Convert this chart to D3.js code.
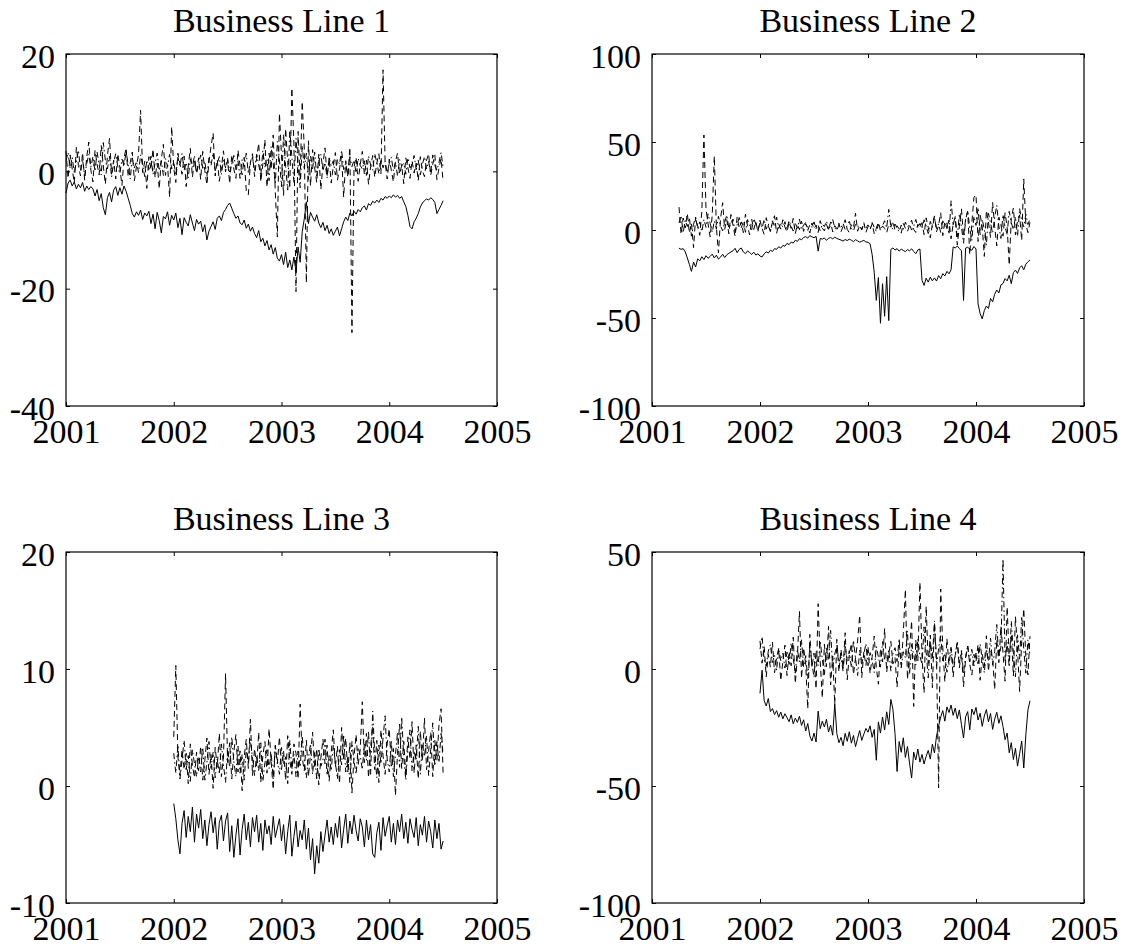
<!DOCTYPE html>
<html><head><meta charset="utf-8">
<script src="https://cdn.jsdelivr.net/npm/d3@7"></script>
<style>body{margin:0;background:#fff}svg{display:block}</style>
</head><body><svg id="c" width="1124" height="949"></svg>
<script>
// ---------- data ----------
const titles = ["Business Line 1", "Business Line 2", "Business Line 3", "Business Line 4"];
const xTicks = [2001, 2002, 2003, 2004, 2005];
const stepYears = 1 / 52; // weekly observations
const startYears = [2001.0, 2001.25, 2002.0, 2002.0];

const yTicks1 = [-40, -20, 0, 20];
const yTicks2 = [-100, -50, 0, 50, 100];
const yTicks3 = [-10, 0, 10, 20];
const yTicks4 = [-100, -50, 0, 50];

// Business Line 1
const bl1Solid = [
 -3.7,-2,-1.5,-2.5,-1.8,-3,-2.2,-2.8,-1.9,-3.4,-2.5,-3.1,-2.6,
 -3.0,-4.2,-3.1,-5.0,-3.8,-6.2,-7.4,-4.5,-3.6,-5.2,-3.2,-2.6,-4.1,
 -2.8,-3.9,-2.5,-3.4,-4.6,-5.8,-7.2,-7.8,-6.9,-7.5,-6.6,-8.2,-7.1,
 -7.6,-6.8,-8.9,-7.3,-9.8,-7.0,-8.4,-10.5,-7.7,-8.1,-6.9,-9.2,-7.5,
 -8.3,-7.1,-9.6,-8.0,-10.8,-7.9,-8.7,-9.3,-7.4,-8.8,-10.1,-8.2,-9.0,
 -8.5,-10.3,-9.1,-11.7,-10.2,-9.4,-8.6,-9.9,-8.0,-7.6,-8.4,-7.0,-6.5,
 -5.8,-5.4,-6.3,-7.2,-8.0,-7.6,-8.8,-9.1,-8.3,-9.7,-9.0,-10.2,-9.5,
 -10.6,-11.3,-10.1,-12.0,-11.4,-12.7,-11.8,-13.4,-12.5,-14.1,-13.0,-14.8,-15.3,
 -14.2,-15.9,-13.8,-16.4,-15.1,-16.8,-14.6,-17.2,-12.9,-15.5,-10.3,-8.1,-5.2,
 -8.9,-7.0,-7.8,-8.5,-7.4,-8.8,-9.6,-8.7,-10.1,-9.2,-10.6,-9.8,-10.9,
 -10.2,-9.5,-11.0,-9.8,-8.6,-7.8,-8.4,-7.1,-7.6,-6.8,-7.3,-6.5,-6.9,
 -6.2,-5.9,-6.6,-5.5,-5.8,-5.1,-5.4,-4.9,-5.3,-4.6,-4.9,-4.3,-4.6,
 -4.2,-4.5,-4.0,-4.4,-4.1,-4.6,-4.3,-5.2,-6.0,-7.5,-9.4,-9.8,-8.6,
 -8.0,-7.2,-6.1,-5.4,-5.0,-4.7,-4.9,-4.5,-4.8,-5.3,-7.2,-6.5,-5.8,-5.0];
const bl1Dashed = [
 3.5,-1.2,2.8,0.4,-2.0,4.1,1.0,-0.8,3.2,-1.5,2.4,5.0,0.2,
 -1.8,3.6,1.2,-0.6,4.4,0.9,-2.2,2.7,5.6,-0.4,1.9,-1.3,3.0,
 0.6,-2.4,2.2,4.0,-0.9,1.5,3.3,-1.6,0.8,2.9,10.4,-0.2,1.7,
 -2.9,2.5,0.3,3.8,-1.1,1.4,-3.0,2.1,4.6,-0.7,1.1,-4.4,7.6,
 0.5,-1.9,3.1,1.3,-0.5,2.6,-2.6,0.9,3.9,-1.0,1.8,-0.3,2.3,
 -1.4,3.4,0.1,-2.3,1.6,4.3,6.5,-0.8,2.0,-1.7,0.7,3.5,-0.1,
 1.9,-2.1,2.8,0.4,-1.2,3.6,1.0,-0.6,2.4,-3.3,-4.0,1.5,3.0,
 -0.9,2.2,4.8,-1.8,1.2,5.4,-2.7,3.1,0.3,6.2,-3.5,-11.2,9.9,
 2.6,-4.1,7.3,1.5,-2.9,14.2,4.6,-20.5,6.8,-1.4,11.9,3.8,-19.0,
 5.2,-2.5,3.7,0.6,-1.9,2.9,-3.1,1.3,4.0,-0.8,2.2,-2.0,0.9,
 3.2,-1.5,0.4,2.6,-4.4,1.8,-0.9,4.1,-27.5,0.7,2.4,-1.7,1.2,
 3.4,-0.6,1.9,-2.2,0.8,2.7,-1.0,1.4,3.0,-0.4,17.3,1.6,-1.3,
 2.1,0.2,-1.8,1.7,3.1,-0.5,1.0,-2.1,2.3,0.6,-1.2,1.8,-0.3,
 1.4,-1.6,2.5,0.1,-0.9,1.9,3.0,-0.7,1.2,2.8,-1.4,0.5,2.2,-1.8];
const bl1DashDot = [
 1.8,3.2,0.5,2.4,-0.3,1.6,3.6,0.2,2.0,-0.8,1.3,2.9,0.7,
 2.5,0.0,3.3,1.1,-0.6,4.9,1.9,0.4,2.6,-1.0,1.5,3.0,0.8,
 -0.4,2.1,0.9,3.4,1.2,-1.3,2.3,0.6,1.7,-0.2,2.8,1.0,-0.9,
 1.9,0.3,2.6,-0.5,1.4,3.1,0.1,1.8,-0.7,2.2,0.8,2.9,0.4,
 1.6,-0.6,2.4,0.9,3.0,0.2,1.5,-1.1,2.1,0.7,2.7,-0.3,1.2,
 2.8,0.5,1.7,-0.9,2.3,1.0,3.2,0.1,1.4,2.5,-0.5,1.9,0.6,
 2.2,-0.1,1.3,2.7,0.3,1.8,-1.2,2.0,0.8,3.1,-0.4,1.6,2.4,
 0.2,2.9,1.1,-0.8,3.5,0.7,2.1,-1.6,4.2,1.3,-2.2,5.1,2.0,
 -2.6,6.3,0.8,-3.2,7.0,2.4,-1.9,5.6,1.1,-2.8,4.4,0.5,3.1,
 -1.4,2.6,0.4,3.3,-0.8,1.7,2.9,0.1,1.5,-1.1,2.3,0.9,1.8,
 -0.6,2.0,1.2,3.6,0.3,1.4,-0.9,2.5,0.8,1.9,-0.3,2.2,1.0,
 0.4,1.8,-0.7,2.6,1.1,0.2,3.0,1.5,-0.4,2.1,0.6,1.7,-0.2,
 1.3,2.4,0.1,1.6,-0.8,2.0,0.9,1.4,-0.5,2.3,0.6,1.1,2.7,
 0.3,1.9,-0.6,1.2,2.5,0.4,1.7,-0.3,2.8,1.0,0.2,1.5,3.2,0.7];

// Business Line 2
const bl2Solid = [
 -10.3,-11.0,-10.6,-12.4,-15.8,-19.6,-23.5,-18.2,-21.0,-16.4,-17.5,-15.2,-16.8,
 -14.6,-16.1,-15.0,-13.7,-15.9,-14.3,-16.5,-15.4,-13.8,-15.6,-14.1,-13.2,-12.5,
 -11.8,-10.4,-12.9,-11.0,-10.2,-12.5,-13.4,-11.9,-12.8,-13.9,-12.6,-14.2,-13.5,
 -14.8,-15.3,-13.6,-12.4,-13.1,-11.5,-12.2,-10.6,-11.0,-9.5,-10.3,-8.8,-9.2,
 -7.6,-8.3,-6.9,-7.4,-5.8,-6.5,-4.9,-5.6,-4.2,-3.8,-4.6,-3.2,-3.9,
 -4.4,-3.6,-12.0,-4.8,-5.2,-4.5,-5.9,-4.7,-4.3,-5.0,-4.1,-4.8,-5.3,
 -5.7,-6.3,-5.4,-6.0,-5.2,-5.8,-6.6,-5.5,-6.2,-6.9,-6.4,-5.9,-6.8,
 -7.0,-7.8,-14.0,-24.0,-40.0,-27.0,-53.0,-30.5,-49.0,-26.5,-51.5,-11.0,-10.2,
 -11.4,-10.6,-12.0,-10.9,-11.6,-12.3,-11.1,-11.8,-10.7,-12.2,-13.5,-11.3,-10.8,
 -28.5,-31.5,-27.4,-29.6,-26.8,-28.9,-27.2,-29.0,-25.9,-27.7,-24.8,-26.1,-23.5,
 -24.9,-22.6,-9.6,-10.2,-9.1,-10.5,-11.8,-40.0,-10.3,-9.8,-10.9,-11.5,-9.4,
 -10.8,-42.0,-47.5,-50.5,-45.8,-43.2,-44.6,-38.9,-40.8,-36.5,-34.1,-35.8,-31.2,
 -30.4,-27.6,-28.9,-25.7,-30.5,-24.2,-22.8,-24.7,-21.5,-20.3,-22.6,-19.4,-18.1,-17.0];
const bl2Dashed = [
 13.0,-2.5,6.8,1.2,9.5,-1.8,4.0,-10.0,7.2,2.1,-3.0,10.5,54.0,
 12.0,3.5,-4.0,8.3,42.0,1.6,-13.0,6.4,15.5,0.4,5.9,-2.2,8.8,
 2.7,-3.6,7.4,1.0,4.6,-1.5,9.0,2.4,-2.8,6.1,0.3,4.8,-1.0,
 5.5,0.8,-2.4,7.0,2.2,-0.6,4.3,8.1,-1.9,3.4,0.5,5.8,1.7,
 -1.2,4.5,0.9,6.6,-2.0,2.9,0.2,5.1,-0.8,3.6,1.3,-1.7,4.0,
 0.6,2.8,-1.4,5.3,1.1,-0.5,3.2,0.0,4.6,-1.1,2.5,0.7,3.9,
 -0.9,2.0,5.8,0.4,-1.6,3.0,1.2,9.5,-0.7,2.6,0.1,4.2,-1.3,
 1.9,0.3,3.5,-2.1,1.0,4.4,-0.4,2.3,0.9,-1.5,3.1,1.6,5.0,
 -0.2,2.4,0.6,-1.8,3.7,1.0,-0.9,2.8,5.6,0.3,-1.4,3.3,1.4,
 4.2,-2.6,6.9,1.5,-4.5,3.4,8.0,-1.0,2.6,9.8,-3.2,4.9,0.8,
 5.7,-5.0,3.3,7.6,-8.5,2.1,12.0,-3.8,6.2,10.5,-14.0,4.0,18.5,
 20.0,-6.5,8.4,2.0,-15.0,11.2,4.5,-4.2,15.6,1.8,-9.0,7.3,3.0,
 -3.5,9.8,1.4,-20.0,6.7,12.5,-2.8,5.0,8.6,-6.0,29.0,3.2,-1.5,4.4];
const bl2DashDot = [
 4.0,8.2,-1.6,5.5,2.0,6.9,-3.5,3.2,7.4,0.8,4.6,-0.9,6.0,
 1.5,9.2,3.8,-1.2,5.1,0.6,7.8,2.3,-0.5,4.4,8.5,1.0,3.6,
 6.2,-0.8,3.0,7.1,1.4,4.8,-1.3,5.9,2.5,0.2,6.5,3.3,-0.4,
 4.1,1.2,6.0,0.5,3.5,-0.9,5.2,2.0,7.3,0.9,3.8,1.6,4.7,
 0.3,5.4,2.2,-0.6,3.9,1.0,6.2,0.4,2.8,4.3,-0.2,3.1,1.5,
 4.6,0.8,2.6,-0.4,3.4,1.9,5.0,0.6,2.3,6.1,1.2,-0.3,3.0,
 1.4,3.8,0.2,2.7,4.9,1.0,-0.5,3.3,1.8,2.5,0.4,3.6,1.1,
 2.9,0.7,4.2,1.5,-0.8,3.1,0.9,2.4,5.3,1.2,11.7,2.0,0.5,
 3.4,1.1,-1.0,2.8,0.4,4.5,1.8,3.2,0.0,2.1,6.0,1.3,3.7,
 0.6,5.8,2.4,-2.0,4.9,1.5,7.4,0.8,3.5,-1.4,5.2,2.0,4.1,
 -2.5,16.6,3.0,6.8,-4.0,9.2,1.7,-7.5,5.5,11.0,0.9,-5.8,7.8,
 2.6,12.8,-3.2,6.1,0.4,-8.6,9.5,3.8,-1.6,7.2,14.0,2.2,-4.8,
 8.8,1.5,-2.4,10.6,4.0,0.2,7.5,-3.6,12.2,5.3,1.8,9.0,3.1,6.4];

// Business Line 3
const bl3Solid = [
 -1.5,-2.8,-4.6,-5.8,-3.2,-2.1,-4.4,-2.6,-3.9,-1.8,-4.8,-2.4,-3.6,
 -2.0,-4.5,-2.9,-5.1,-3.3,-2.2,-4.0,-2.7,-5.4,-3.1,-2.5,-4.7,-3.0,
 -2.3,-5.6,-3.4,-6.1,-4.2,-2.8,-5.9,-3.7,-2.4,-4.6,-3.1,-5.2,-2.7,
 -3.9,-2.5,-4.8,-3.2,-5.5,-2.9,-4.1,-3.4,-5.0,-2.6,-4.4,-3.6,-2.8,
 -4.7,-3.3,-5.8,-3.9,-2.5,-6.0,-4.3,-3.0,-5.2,-3.8,-4.6,-2.9,-5.4,
 -3.6,-6.3,-4.5,-7.5,-5.1,-6.6,-3.9,-5.6,-4.2,-2.9,-4.8,-3.5,-5.0,
 -3.2,-4.4,-2.6,-5.3,-3.7,-2.4,-4.9,-3.0,-4.1,-2.5,-3.8,-4.7,-2.8,
 -3.5,-5.2,-2.9,-4.6,-3.3,-5.8,-6.1,-4.0,-3.1,-5.5,-2.7,-4.3,-3.4,
 -2.6,-4.8,-3.2,-5.0,-2.9,-3.9,-2.4,-4.5,-3.1,-4.9,-2.8,-3.7,-4.4,
 -2.7,-5.1,-3.3,-4.2,-2.6,-4.8,-3.0,-3.9,-5.3,-2.9,-4.5,-3.2,-5.4,-4.7];
const bl3Dashed = [
 4.2,10.3,2.5,0.9,3.1,1.4,2.8,0.2,3.6,1.8,0.7,2.9,1.3,
 3.4,0.5,2.2,4.1,1.0,2.7,-0.2,3.3,1.6,4.5,0.8,2.4,9.6,
 2.0,3.7,0.6,2.9,4.4,1.2,3.0,-0.4,2.5,4.0,1.5,5.7,0.9,
 3.2,1.7,4.6,0.3,2.6,3.8,1.1,4.9,2.1,-0.3,3.5,1.9,4.2,
 1.4,3.0,0.5,4.3,2.2,1.0,3.6,2.8,0.6,7.0,2.4,1.3,3.9,
 0.8,2.7,4.6,1.5,3.2,0.1,2.4,4.0,1.9,3.5,0.4,2.9,4.8,
 1.6,3.4,0.2,5.0,2.3,4.1,1.2,3.7,-0.6,2.5,4.4,1.8,3.1,
 7.2,2.0,4.5,0.7,3.3,5.1,1.4,3.9,0.3,4.8,2.6,1.0,3.6,
 4.9,1.7,3.2,-0.8,2.8,5.3,1.5,3.8,0.9,4.2,2.3,5.5,1.1,
 3.5,0.6,4.7,2.1,5.8,1.4,3.0,4.6,0.8,3.9,2.2,5.2,6.6,1.0];
const bl3DashDot = [
 2.8,1.1,3.5,0.6,2.2,3.9,1.4,2.6,0.4,3.1,1.9,0.8,2.5,
 1.2,3.3,0.5,2.0,3.8,1.5,2.9,0.7,2.3,1.0,3.6,1.8,0.3,
 3.0,1.6,4.2,2.1,0.8,3.4,1.1,2.7,0.5,3.2,1.9,4.0,2.4,
 0.9,2.6,1.3,3.7,0.4,2.0,3.1,1.5,2.8,0.6,3.4,2.2,1.0,
 3.3,1.8,2.5,0.2,3.9,1.4,2.7,0.8,3.0,1.6,4.3,2.1,0.7,
 2.4,3.6,1.0,2.9,0.5,3.2,1.7,2.2,4.0,0.9,2.6,1.3,3.5,
 2.0,0.6,3.1,1.8,4.4,1.2,2.5,0.3,3.8,2.1,1.0,3.3,2.6,
 1.4,3.6,2.2,4.7,1.0,6.4,2.8,0.7,3.5,1.9,4.1,6.0,2.3,
 1.2,3.9,0.8,2.7,4.6,1.6,5.9,2.4,0.5,3.2,4.8,1.3,3.0,
 2.2,5.1,1.0,3.6,2.5,4.3,0.9,3.1,5.4,1.7,3.8,2.0,4.5,2.7];

// Business Line 4
const bl4Solid = [
 -10.4,-0.5,-13.5,-15.8,-12.6,-18.2,-16.9,-19.5,-17.8,-20.6,-18.4,-21.3,-19.1,
 -20.8,-22.5,-19.6,-23.4,-21.0,-22.8,-20.2,-24.1,-21.7,-26.5,-23.3,-28.6,-30.8,
 -27.4,-31.2,-18.0,-25.5,-22.3,-24.8,-21.5,-26.9,-24.0,-28.3,-14.8,-27.6,-31.5,
 -29.2,-32.8,-27.5,-30.9,-26.8,-31.7,-28.4,-33.2,-29.6,-26.3,-30.5,-27.8,-25.4,
 -27.0,-24.3,-29.2,-25.8,-39.0,-22.6,-27.4,-20.5,-26.1,-18.3,-23.7,-13.0,-17.2,
 -27.5,-43.8,-31.0,-35.6,-29.4,-37.8,-33.1,-40.2,-46.6,-35.5,-38.9,-34.2,-39.8,
 -36.5,-40.6,-37.3,-34.8,-38.5,-32.1,-35.9,-28.6,-24.4,-20.5,-17.8,-22.3,-16.2,
 -18.6,-15.4,-19.8,-16.7,-21.2,-17.5,-23.8,-29.5,-20.4,-18.2,-26.0,-17.1,-19.5,
 -16.4,-21.8,-18.9,-24.5,-20.1,-17.3,-22.6,-19.0,-25.8,-21.4,-18.5,-23.2,-20.0,
 -24.6,-30.2,-27.4,-35.8,-31.5,-38.7,-33.9,-41.5,-36.2,-30.8,-42.3,-28.1,-17.5,-13.6];
const bl4Dashed = [
 12.0,2.5,9.8,-3.4,6.2,0.8,11.5,-1.6,4.9,8.7,-5.0,3.1,10.2,
 -2.8,7.5,1.4,13.6,-6.2,5.3,24.6,-4.0,9.1,2.0,-17.0,14.8,0.6,
 6.8,-8.5,27.9,3.2,-12.4,10.6,1.0,18.2,-6.8,5.5,-15.0,12.7,-1.2,
 8.4,0.3,15.5,-4.6,6.1,10.9,-2.3,4.8,12.0,23.0,-3.6,7.4,1.5,
 9.6,-2.0,5.2,14.1,0.7,-6.5,8.8,3.0,17.3,-1.4,6.4,11.8,2.2,
 4.9,-7.8,10.3,1.6,15.2,34.0,-4.5,8.2,20.6,-16.0,12.4,3.5,37.0,
 6.0,-10.2,26.8,2.4,14.5,-8.0,19.7,4.1,-50.8,34.2,9.3,-5.5,13.0,
 1.8,8.6,-3.4,5.7,11.4,0.5,7.0,-7.6,4.2,9.8,2.0,-2.6,6.3,
 3.1,10.5,-4.8,6.6,1.2,14.2,-1.0,8.0,4.4,-8.8,12.6,2.7,18.4,
 6.9,-5.2,26.5,3.8,15.0,-3.0,22.4,8.1,-9.6,11.7,25.8,4.6,-2.5,14.0];
const bl4DashDot = [
 8.5,13.8,4.0,1.2,7.6,10.4,2.8,5.9,-0.6,9.0,3.5,6.8,0.4,
 7.2,2.0,11.1,4.6,-1.8,8.3,3.0,12.5,0.9,5.7,-4.2,9.4,2.6,
 -3.5,7.9,1.5,12.0,4.2,-2.4,8.8,3.7,16.5,0.2,6.4,10.0,2.9,
 5.2,-1.0,9.7,3.3,7.8,0.6,12.3,4.5,-2.8,8.0,2.1,6.3,10.8,
 1.4,7.0,3.8,-1.5,9.6,5.1,0.8,11.7,4.0,2.3,8.2,-0.9,6.5,
 9.1,3.2,13.0,0.5,7.4,4.8,16.2,-2.2,10.5,6.0,1.7,12.8,5.5,
 2.0,18.0,7.1,-3.8,11.5,4.6,20.4,1.0,8.9,14.2,3.4,6.7,-1.4,
 4.8,9.3,0.7,6.2,11.6,2.5,7.9,-2.0,5.4,10.1,3.0,8.4,1.3,
 6.8,2.2,10.7,4.1,-1.6,8.6,3.5,13.2,1.8,7.5,19.0,5.0,9.4,
 47.0,3.6,11.3,0.8,20.5,6.9,-3.4,14.6,4.2,22.0,8.3,-1.8,12.5,5.7];

// ---------- layout ----------
const panels = [
  {title: titles[0], start: startYears[0], series: [bl1Solid, bl1Dashed, bl1DashDot], yTicks: yTicks1, left: 66, top: 54, w: 431, h: 352},
  {title: titles[1], start: startYears[1], series: [bl2Solid, bl2Dashed, bl2DashDot], yTicks: yTicks2, left: 652, top: 54, w: 432, h: 352},
  {title: titles[2], start: startYears[2], series: [bl3Solid, bl3Dashed, bl3DashDot], yTicks: yTicks3, left: 66, top: 552, w: 431, h: 351},
  {title: titles[3], start: startYears[3], series: [bl4Solid, bl4Dashed, bl4DashDot], yTicks: yTicks4, left: 652, top: 552, w: 432, h: 351}
];
const dashes = [null, "6,4", "6,3,1.5,3"];
const FONT = "'Liberation Serif','Times New Roman',serif";
const FS = 34;
const TL = 4;
const fmt = d => String(d); // plain hyphen-minus, as in the reference

const svg = d3.select("#c");
svg.append("rect").attr("width", 1124).attr("height", 949).attr("fill", "#fff");

panels.forEach(p => {
  const x = d3.scaleLinear().domain(d3.extent(xTicks)).range([p.left, p.left + p.w]);
  const y = d3.scaleLinear().domain(d3.extent(p.yTicks)).range([p.top + p.h, p.top]);
  const g = svg.append("g");

  // series
  p.series.forEach((vals, k) => {
    const line = d3.line().x((d, i) => x(p.start + i * stepYears)).y(d => y(d));
    const path = g.append("path").datum(vals).attr("d", line)
      .attr("fill", "none").attr("stroke", "#000").attr("stroke-width", 1)
      .attr("stroke-linejoin", "miter");
    if (dashes[k]) path.attr("stroke-dasharray", dashes[k]);
  });

  // box
  g.append("rect").attr("x", p.left).attr("y", p.top).attr("width", p.w).attr("height", p.h)
    .attr("fill", "none").attr("stroke", "#000").attr("stroke-width", 1.2);

  // ticks: inward on all four sides
  const bottom = g.append("g").attr("transform", `translate(0,${p.top + p.h})`)
    .call(d3.axisBottom(x).tickValues(xTicks).tickSizeInner(-TL).tickSizeOuter(0).tickFormat(fmt));
  const topAx = g.append("g").attr("transform", `translate(0,${p.top})`)
    .call(d3.axisTop(x).tickValues(xTicks).tickSizeInner(-TL).tickSizeOuter(0).tickFormat(""));
  const leftAx = g.append("g").attr("transform", `translate(${p.left},0)`)
    .call(d3.axisLeft(y).tickValues(p.yTicks).tickSizeInner(-TL).tickSizeOuter(0).tickFormat(fmt));
  const rightAx = g.append("g").attr("transform", `translate(${p.left + p.w},0)`)
    .call(d3.axisRight(y).tickValues(p.yTicks).tickSizeInner(-TL).tickSizeOuter(0).tickFormat(""));
  [bottom, topAx, leftAx, rightAx].forEach(a => {
    a.select(".domain").remove();
    a.selectAll("line").attr("stroke", "#000").attr("stroke-width", 1);
  });
  bottom.selectAll("text").attr("font-family", FONT).attr("font-size", FS).attr("fill", "#000")
    .attr("y", 37).attr("dy", null);
  leftAx.selectAll("text").attr("font-family", FONT).attr("font-size", FS).attr("fill", "#000")
    .attr("x", -11).attr("dy", null).attr("y", 13);

  // title
  g.append("text").attr("x", p.left + p.w / 2).attr("y", p.top - 22)
    .attr("text-anchor", "middle").attr("font-family", FONT).attr("font-size", FS)
    .attr("fill", "#000").text(p.title);
});
</script>
</body></html>
